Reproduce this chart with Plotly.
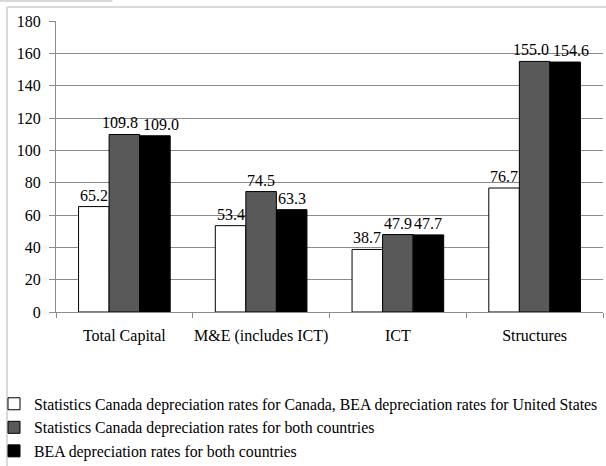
import plotly.graph_objects as go

categories = ["Total Capital", "M&E (includes ICT)", "ICT", "Structures"]
series_names = [
    "Statistics Canada depreciation rates for Canada, BEA depreciation rates for United States",
    "Statistics Canada depreciation rates for both countries",
    "BEA depreciation rates for both countries",
]
mixed_rates = [65.2, 53.4, 38.7, 76.7]
statcan_rates = [109.8, 74.5, 47.9, 155.0]
bea_rates = [109.0, 63.3, 47.7, 154.6]
y_ticks = [0, 20, 40, 60, 80, 100, 120, 140, 160, 180]

W, H = 606, 466
ML, MR, MT, MB = 56, 3, 21, 154
FONT = "Liberation Serif, Times New Roman, serif"
GRID = "#8c8c8c"
BARGAP = 0.33

fig = go.Figure()
fills = ["#ffffff", "#595959", "#000000"]
all_series = [mixed_rates, statcan_rates, bea_rates]
for name, vals, col in zip(series_names, all_series, fills):
    fig.add_trace(go.Bar(
        x=categories, y=vals, name=name,
        marker=dict(color=col, line=dict(color="#000000", width=1)),
        hoverinfo="x+y",
    ))

# frame pixels -> paper coords
pw = W - ML - MR
ph = H - MT - MB
def px(x):
    return (x - ML) / pw
def py(y):
    return 1 - (y - MT) / ph

# value labels above bars (nudged apart where wide labels would collide, as in the original)
bar_w = pw / len(categories) * (1 - BARGAP) / len(all_series)
annotations = []
for i, vals in enumerate(all_series):
    for j, v in enumerate(vals):
        nudge = 0
        if statcan_rates[j] >= 100 and bea_rates[j] >= 100:
            nudge = {0: 0, 1: -4, 2: 6}[i]
        annotations.append(dict(
            x=categories[j], y=v, xref="x", yref="y", text=f"{v:.1f}",
            showarrow=False, xanchor="center", yanchor="bottom",
            xshift=(i - 1) * bar_w + nudge, yshift=1,
            font=dict(family=FONT, size=16, color="#000000"),
        ))

shapes = [
    dict(type="line", xref="paper", yref="paper", x0=px(7), x1=px(7), y0=py(7), y1=py(470),
         line=dict(color="#d9d9d9", width=2)),
    dict(type="line", xref="paper", yref="paper", x0=px(7), x1=px(610), y0=py(7), y1=py(7),
         line=dict(color="#d9d9d9", width=2)),
    dict(type="line", xref="paper", yref="paper", x0=px(-2), x1=px(112), y0=py(1), y1=py(1),
         line=dict(color="#d9d9d9", width=2)),
    dict(type="line", xref="paper", yref="paper", x0=px(112), x1=px(112), y0=py(-2), y1=py(2),
         line=dict(color="#d9d9d9", width=1)),
]

fig.update_layout(
    width=W, height=H,
    margin=dict(l=ML, r=MR, t=MT, b=MB, pad=0, autoexpand=False),
    paper_bgcolor="#ffffff", plot_bgcolor="#ffffff",
    font=dict(family=FONT, size=16, color="#000000"),
    barmode="group", bargap=BARGAP, bargroupgap=0,
    showlegend=True,
    legend=dict(
        orientation="v", xref="paper", yref="paper",
        x=px(-6), xanchor="left", y=py(387), yanchor="top",
        font=dict(family=FONT, size=15.8, color="#000000"),
        bgcolor="rgba(0,0,0,0)", itemwidth=30, tracegroupgap=0,
    ),
    shapes=shapes,
    annotations=annotations,
    xaxis=dict(
        type="category", showgrid=False, showline=True, linecolor=GRID, linewidth=1,
        ticks="outside", tickson="boundaries", ticklen=5, tickcolor=GRID,
        tickangle=0, ticklabelstandoff=9, tickfont=dict(family=FONT, size=16),
    ),
    yaxis=dict(
        range=[0, 180], tickvals=y_ticks, showgrid=True, gridcolor=GRID, gridwidth=1,
        showline=True, linecolor=GRID, linewidth=1, ticks="outside", ticklen=6,
        tickcolor=GRID, zeroline=False, ticklabelstandoff=5,
        tickfont=dict(family=FONT, size=16),
    ),
)

fig.write_html("out.html", config={"displayModeBar": False},
               post_script="document.body.style.margin='0';")
